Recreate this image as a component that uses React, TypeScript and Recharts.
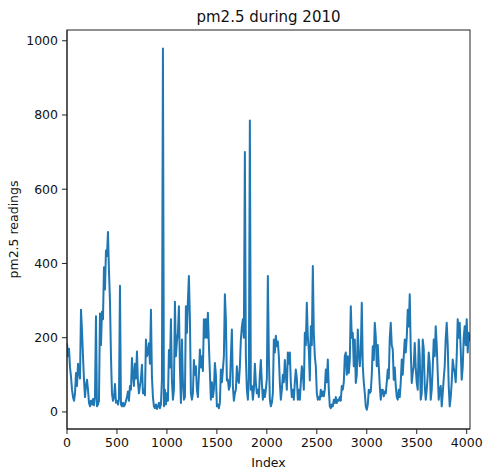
import { LineChart, Line, XAxis, YAxis } from "recharts";

// pm2.5 readings, one sample every 10 index steps
const readingsQ1 = [
  185, 150, 170, 120, 95, 60, 40, 30, 50, 105, 70, 130, 110, 90, 275, 220, 150, 87, 40, 70,
  87, 60, 25, 15, 30, 20, 35, 18, 40, 258, 15, 20, 30, 265, 180, 270, 250, 390, 330, 435,
  420, 485, 380, 300, 150, 50, 30, 40, 75, 25, 30, 20, 35, 340, 20, 15, 25, 15, 20, 30,
  40, 55, 30, 70, 60, 145, 100, 70, 130, 90, 163, 80, 50, 70, 90, 127, 50, 60, 45, 195,
  150, 160, 185, 130, 275, 95, 40, 15, 10, 20, 8, 15, 25, 10, 20, 87, 979, 15, 60, 20,
];
const readingsQ2 = [
  50, 30, 167, 120, 250, 85, 33, 60, 297, 150, 190, 213, 285, 120, 24, 195, 80, 33, 40, 285,
  213, 300, 366, 250, 50, 33, 50, 140, 100, 123, 60, 40, 100, 168, 120, 150, 110, 250, 200, 250,
  200, 267, 180, 105, 33, 80, 40, 60, 132, 100, 15, 20, 10, 25, 114, 80, 114, 150, 317, 250,
  85, 87, 60, 70, 150, 222, 70, 30, 50, 60, 123, 87, 78, 123, 195, 230, 250, 200, 700, 150,
  60, 33, 90, 785, 60, 70, 33, 60, 130, 78, 50, 60, 40, 100, 140, 78, 33, 60, 40, 60,
];
const readingsQ3 = [
  90, 366, 150, 33, 15, 25, 50, 195, 160, 205, 177, 190, 150, 78, 33, 60, 100, 80, 140, 100,
  60, 160, 130, 160, 78, 40, 60, 33, 80, 114, 90, 33, 60, 33, 80, 123, 105, 60, 213, 180,
  294, 200, 168, 85, 231, 180, 393, 213, 150, 123, 51, 33, 40, 33, 60, 42, 55, 42, 60, 114,
  80, 141, 60, 15, 10, 20, 15, 33, 24, 40, 24, 33, 30, 40, 30, 70, 60, 80, 150, 160,
  100, 150, 105, 140, 285, 200, 213, 123, 195, 78, 100, 222, 160, 123, 160, 294, 123, 80, 51, 15,
];
const readingsQ4 = [
  6, 20, 60, 51, 55, 100, 177, 140, 240, 203, 123, 180, 123, 70, 33, 60, 60, 42, 55, 50,
  80, 114, 90, 200, 240, 180, 168, 87, 120, 70, 40, 33, 60, 40, 80, 141, 100, 150, 195, 160,
  200, 275, 230, 317, 168, 78, 105, 123, 186, 120, 78, 60, 195, 150, 33, 50, 195, 170, 70, 33,
  60, 100, 160, 130, 33, 60, 120, 195, 150, 231, 180, 105, 33, 60, 70, 15, 50, 90, 123, 200,
  240, 180, 70, 15, 40, 80, 141, 120, 105, 80, 150, 250, 200, 240, 168, 87, 120, 200, 231, 180,
  250, 160, 213, 190,
];
const SAMPLE_STEP = 10;

const xTicks = [0, 500, 1000, 1500, 2000, 2500, 3000, 3500, 4000];
const yTicks = [0, 200, 400, 600, 800, 1000];

const data = [...readingsQ1, ...readingsQ2, ...readingsQ3, ...readingsQ4].map((v, i) => ({
  index: i * SAMPLE_STEP,
  pm25: v,
}));

const font = "'DejaVu Sans', sans-serif";
const axisColor = "#222";
const tickStyle = { fontSize: 12.5, fill: "#111", fontFamily: font };

export default function App() {
  return (
    <div style={{ position: "relative", width: 483, height: 470, background: "#fff" }}>
      <style>{`body { margin: 0; }`}</style>
      <LineChart width={483} height={470} data={data} margin={{ top: 30, right: 13, bottom: 0, left: 0 }}>
        <XAxis
          dataKey="index"
          type="number"
          domain={[0, 4033]}
          ticks={xTicks}
          allowDataOverflow
          height={41}
          stroke={axisColor}
          tickSize={5}
          tickMargin={4}
          tick={tickStyle}
        />
        <YAxis
          type="number"
          domain={[-46, 1029]}
          ticks={yTicks}
          allowDataOverflow
          width={67}
          stroke={axisColor}
          tickSize={5}
          tickMargin={4}
          tick={tickStyle}
        />
        <Line
          dataKey="pm25"
          stroke="#1f77b4"
          strokeWidth={2}
          strokeLinejoin="round"
          dot={false}
          activeDot={false}
          isAnimationActive={false}
        />
      </LineChart>
      {/* axes frame + title / axis labels */}
      <svg width={483} height={470} style={{ position: "absolute", left: 0, top: 0, pointerEvents: "none" }}>
        <rect x={67} y={30} width={403} height={399} fill="none" stroke={axisColor} strokeWidth={1} />
        <text x={268.5} y={22} textAnchor="middle" fontSize={15} fontFamily={font} fill="#111">
          pm2.5 during 2010
        </text>
        <text x={268.5} y={466.5} textAnchor="middle" fontSize={12.5} fontFamily={font} fill="#111">
          Index
        </text>
        <text x={18} y={229.5} textAnchor="middle" fontSize={12.5} fontFamily={font} fill="#111" transform="rotate(-90, 18, 229.5)">
          pm2.5 readings
        </text>
      </svg>
    </div>
  );
}
